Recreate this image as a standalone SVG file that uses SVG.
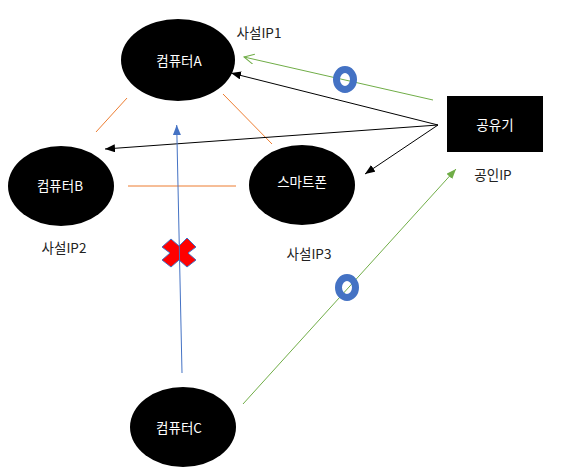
<svg xmlns="http://www.w3.org/2000/svg" width="565" height="476" viewBox="0 0 565 476">
<style>
text{font-family:"Noto Sans CJK KR","Liberation Sans",sans-serif;font-size:13.5px;text-anchor:middle}
.w{fill:#fff}.l{fill:#222}
.o{stroke:#ed7d31;stroke-width:1;fill:none}
.k{stroke:#000;stroke-width:1;fill:none;marker-end:url(#ka)}
.g{stroke:#70ad47;stroke-width:1;fill:none}
.d{fill:none;stroke:#4472c4;stroke-width:7}
</style>
<defs>
<marker id="ka" markerUnits="userSpaceOnUse" markerWidth="12" markerHeight="10" refX="10" refY="4" orient="auto"><path d="M0 0L10 4L0 8Z" fill="#000"/></marker>
<marker id="ga" markerUnits="userSpaceOnUse" markerWidth="12" markerHeight="10" refX="10" refY="4" orient="auto"><path d="M0 0L10 4L0 8Z" fill="#70ad47"/></marker>
<marker id="goa" markerUnits="userSpaceOnUse" markerWidth="12" markerHeight="12" refX="10" refY="5" orient="auto"><path d="M0 0L10 5L0 10" fill="none" stroke="#70ad47"/></marker>
<marker id="ba" markerUnits="userSpaceOnUse" markerWidth="12" markerHeight="10" refX="10" refY="4" orient="auto"><path d="M0 0L10 4L0 8Z" fill="#4472c4"/></marker>
</defs>
<g id="markX"><path d="M171 239L179 246L187 238L196 247L188 253L196 260L187 267L179 260L171 267L162 260L170 253L162 247Z" fill="#f00" stroke="#4472c4" stroke-width="1"/></g>
<g id="connectors">
<path class="o" d="M127 98L96 132M223 94L272 144M128 186H236"/>
<path class="k" d="M438 125L231 73"/>
<path class="k" d="M438 125L105 149"/>
<path class="k" d="M438 125L365 174"/>
<path class="g" d="M433 100L244 57" marker-end="url(#goa)"/>
<path class="g" d="M243 404L456 169" marker-end="url(#ga)"/>
<path d="M182 373L176.700 125" fill="none" stroke="#4472c4" stroke-width="1" marker-end="url(#ba)"/>
</g>
<g id="computerA"><ellipse cx="178" cy="60" rx="57" ry="41"/><text class="w" x="179" y="66">컴퓨터A</text></g>
<g id="computerB"><ellipse cx="61" cy="186" rx="53" ry="40"/><text class="w" x="60" y="191">컴퓨터B</text></g>
<g id="smartphone"><ellipse cx="302" cy="185" rx="53" ry="40"/><text class="w" x="302" y="187">스마트폰</text></g>
<g id="router"><rect x="447" y="96" width="96" height="56"/><text class="w" x="495" y="130">공유기</text></g>
<g id="computerC"><ellipse cx="183" cy="427" rx="53" ry="40"/><text class="w" x="179" y="433">컴퓨터C</text></g>
<g id="labels">
<text class="l" x="259" y="38">사설IP1</text>
<text class="l" x="64" y="253">사설IP2</text>
<text class="l" x="309" y="259">사설IP3</text>
<text class="l" x="493" y="180">공인IP</text>
</g>
<g id="markO1"><ellipse class="d" cx="345" cy="79.500" rx="8.500" ry="10"/></g>
<g id="markO2"><ellipse class="d" cx="347" cy="287.500" rx="8.500" ry="10"/></g>
</svg>
